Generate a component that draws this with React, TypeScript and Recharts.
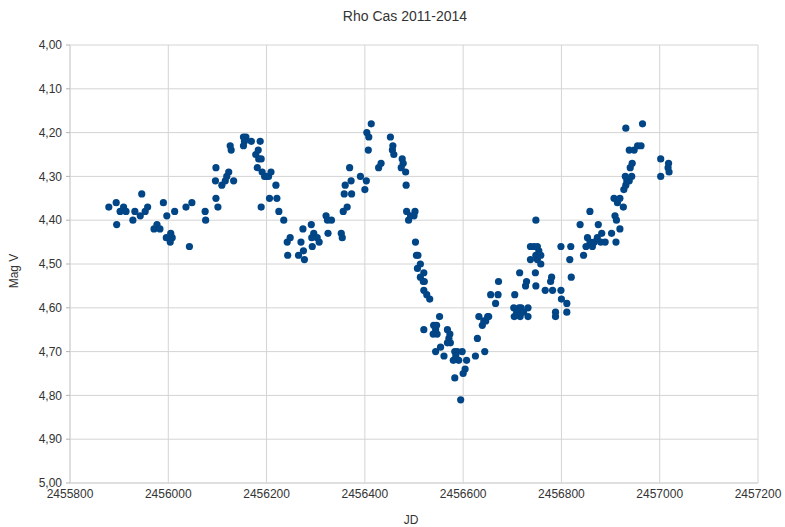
import React from "react";
import { ScatterChart, Scatter, XAxis, YAxis, CartesianGrid } from "recharts";

// Julian dates and V magnitudes, season by season
const season1Jd = [2455879, 2455894, 2455895, 2455902, 2455909, 2455914, 2455928, 2455932, 2455943, 2455946, 2455953, 2455958, 2455971, 2455977, 2455983, 2455990, 2455997, 2456005, 2455996, 2456004, 2456008, 2456013];
const season1Mag = [4.37, 4.36, 4.41, 4.38, 4.37, 4.38, 4.40, 4.38, 4.39, 4.34, 4.38, 4.37, 4.42, 4.41, 4.42, 4.36, 4.39, 4.43, 4.44, 4.45, 4.44, 4.38];

const season2Jd = [2456036, 2456048, 2456043, 2456075, 2456076, 2456097, 2456096, 2456097, 2456101, 2456109, 2456116, 2456119, 2456123, 2456133, 2456126, 2456128, 2456153, 2456158, 2456155, 2456153, 2456169, 2456187, 2456178, 2456183, 2456184, 2456189, 2456181, 2456191, 2456196, 2456199, 2456204, 2456209, 2456206, 2456221, 2456189, 2456219, 2456225, 2456235, 2456242, 2456248, 2456243];
const season2Mag = [4.37, 4.36, 4.46, 4.38, 4.40, 4.28, 4.31, 4.35, 4.37, 4.32, 4.31, 4.30, 4.29, 4.31, 4.23, 4.24, 4.21, 4.21, 4.22, 4.23, 4.22, 4.22, 4.25, 4.24, 4.26, 4.26, 4.28, 4.29, 4.30, 4.30, 4.30, 4.29, 4.35, 4.35, 4.37, 4.32, 4.38, 4.40, 4.45, 4.44, 4.48];

const season3Jd = [2456265, 2456275, 2456277, 2456270, 2456274, 2456291, 2456292, 2456296, 2456303, 2456307, 2456293, 2456321, 2456324, 2456332, 2456325, 2456352, 2456354, 2456356, 2456364, 2456358, 2456373, 2456360, 2456372, 2456369, 2456391, 2456403, 2456400, 2456404, 2456408, 2456407, 2456413, 2456428, 2456433, 2456452, 2456456, 2456459, 2456457, 2456476, 2456478, 2456483, 2456474, 2456484, 2456485, 2456489, 2456493, 2456500, 2456502, 2456503, 2456505, 2456508, 2456513, 2456507, 2456513, 2456520, 2456521, 2456519, 2456520, 2456526, 2456532];
const season3Mag = [4.48, 4.47, 4.49, 4.45, 4.42, 4.41, 4.44, 4.43, 4.44, 4.45, 4.46, 4.39, 4.40, 4.40, 4.43, 4.43, 4.44, 4.38, 4.37, 4.34, 4.34, 4.32, 4.31, 4.28, 4.30, 4.31, 4.33, 4.20, 4.21, 4.24, 4.18, 4.28, 4.27, 4.21, 4.24, 4.25, 4.23, 4.26, 4.27, 4.29, 4.28, 4.32, 4.38, 4.40, 4.39, 4.39, 4.38, 4.45, 4.48, 4.48, 4.50, 4.51, 4.53, 4.52, 4.54, 4.54, 4.56, 4.57, 4.58];

const season4Jd = [2456520, 2456540, 2456544, 2456547, 2456539, 2456552, 2456546, 2456544, 2456554, 2456561, 2456568, 2456573, 2456571, 2456574, 2456568, 2456583, 2456588, 2456598, 2456591, 2456580, 2456585, 2456607, 2456583, 2456604, 2456600, 2456595, 2456625, 2456644, 2456629, 2456632, 2456639, 2456642, 2456646, 2456650, 2456652];
const season4Mag = [4.65, 4.64, 4.65, 4.66, 4.66, 4.62, 4.64, 4.70, 4.69, 4.71, 4.65, 4.66, 4.67, 4.68, 4.68, 4.70, 4.70, 4.70, 4.72, 4.72, 4.71, 4.72, 4.76, 4.74, 4.75, 4.81, 4.71, 4.70, 4.67, 4.62, 4.64, 4.63, 4.63, 4.62, 4.62];

const season5Jd = [2456656, 2456666, 2456671, 2456672, 2456705, 2456715, 2456703, 2456714, 2456718, 2456723, 2456704, 2456716, 2456732, 2456732, 2456709, 2456727, 2456729, 2456748, 2456747, 2456748, 2456737, 2456744, 2456751, 2456754, 2456751, 2456758, 2456748, 2456751, 2456758, 2456737, 2456767, 2456782, 2456778, 2456780, 2456799, 2456800, 2456811, 2456811, 2456788, 2456788, 2456799, 2456819, 2456817, 2456820];
const season5Mag = [4.57, 4.59, 4.57, 4.54, 4.57, 4.52, 4.60, 4.60, 4.60, 4.61, 4.62, 4.62, 4.60, 4.62, 4.61, 4.55, 4.54, 4.55, 4.52, 4.40, 4.46, 4.46, 4.46, 4.47, 4.48, 4.48, 4.48, 4.49, 4.50, 4.49, 4.56, 4.56, 4.54, 4.53, 4.56, 4.58, 4.59, 4.61, 4.61, 4.62, 4.46, 4.46, 4.49, 4.53];

const season6Jd = [2456838, 2456845, 2456850, 2456853, 2456858, 2456863, 2456867, 2456873, 2456875, 2456882, 2456880, 2456889, 2456911, 2456858, 2456902, 2456909, 2456912, 2456919, 2456914, 2456907, 2456919, 2456926, 2456927, 2456931, 2456933, 2456938, 2456943, 2456930, 2456940, 2456944, 2456938, 2456948, 2456955, 2456962, 2456931, 2456965, 2457002, 2457018, 2457017, 2457019, 2457002];
const season6Mag = [4.41, 4.48, 4.46, 4.44, 4.45, 4.46, 4.45, 4.44, 4.41, 4.43, 4.45, 4.45, 4.45, 4.38, 4.43, 4.39, 4.40, 4.42, 4.36, 4.35, 4.35, 4.37, 4.33, 4.32, 4.31, 4.31, 4.30, 4.30, 4.28, 4.27, 4.24, 4.24, 4.23, 4.23, 4.19, 4.18, 4.26, 4.27, 4.28, 4.29, 4.30];

const xTicks = [2455800, 2456000, 2456200, 2456400, 2456600, 2456800, 2457000, 2457200];
const yTicks = [4.0, 4.1, 4.2, 4.3, 4.4, 4.5, 4.6, 4.7, 4.8, 4.9, 5.0];

const title = "Rho Cas 2011-2014";
const xTitle = "JD";
const yTitle = "Mag V";

const allJd = [...season1Jd, ...season2Jd, ...season3Jd, ...season4Jd, ...season5Jd, ...season6Jd];
const allMag = [...season1Mag, ...season2Mag, ...season3Mag, ...season4Mag, ...season5Mag, ...season6Mag];
const data = allJd.map((jd, i) => ({ jd, mag: allMag[i] }));

const FONT = "'Liberation Sans', Arial, sans-serif";
const GRID = "#d4d4d4";
const TEXT = "#333333";

const Dot = (props: any) => <circle cx={props.cx} cy={props.cy} r={3.6} fill="#004586" />;

export default function App() {
  return (
    <div style={{ position: "absolute", left: 0, top: 0, width: 785, height: 527, background: "#fff", fontFamily: FONT }}>
      <ScatterChart width={785} height={527} margin={{ top: 45, right: 27, bottom: 0, left: 0 }}>
        <CartesianGrid stroke={GRID} strokeWidth={1} />
        <XAxis
          type="number"
          dataKey="jd"
          domain={[2455800, 2457200]}
          ticks={xTicks}
          interval={0}
          height={44}
          tickSize={0}
          tickMargin={6}
          axisLine={{ stroke: GRID }}
          tick={{ fontSize: 12, fill: TEXT, fontFamily: FONT }}
        />
        <YAxis
          type="number"
          dataKey="mag"
          domain={[4, 5]}
          reversed
          ticks={yTicks}
          interval={0}
          width={70}
          tickSize={4}
          tickMargin={4}
          axisLine={{ stroke: GRID }}
          tickLine={{ stroke: "#b3b3b3" }}
          tickFormatter={(v: number) => v.toFixed(2).replace(".", ",")}
          tick={{ fontSize: 12, fill: TEXT, fontFamily: FONT }}
        />
        <Scatter data={data} shape={Dot} isAnimationActive={false} />
      </ScatterChart>
      <svg width={785} height={527} style={{ position: "absolute", left: 0, top: 0, pointerEvents: "none" }}>
        <text x={405} y={21} textAnchor="middle" fontSize={14} fill={TEXT} fontFamily={FONT}>{title}</text>
        <text x={411} y={524} textAnchor="middle" fontSize={12} fill={TEXT} fontFamily={FONT}>{xTitle}</text>
        <text x={18} y={271} textAnchor="middle" fontSize={12} fill={TEXT} fontFamily={FONT} transform="rotate(-90 18 271)">{yTitle}</text>
      </svg>
    </div>
  );
}
